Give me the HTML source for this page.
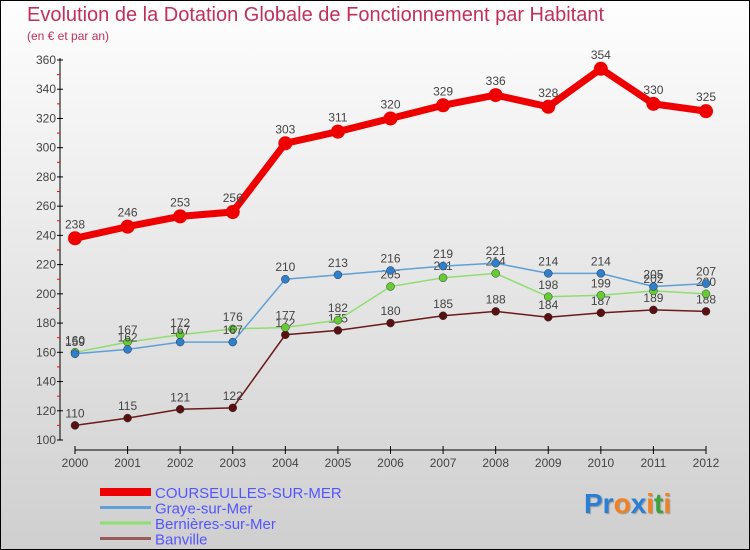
<!DOCTYPE html>
<html><head><meta charset="utf-8"><style>
body{margin:0}
#c{position:relative;width:748px;height:548px;border:1px solid #000;background:linear-gradient(#fefefe,#cfcfcf);font-family:"Liberation Sans",sans-serif;overflow:hidden}
.t{position:absolute;color:#c0305a}
</style></head><body>
<div id="c">
<div class="t" style="left:26px;top:3px;font-size:20px">Evolution de la Dotation Globale de Fonctionnement par Habitant</div>
<div class="t" style="left:26px;top:28px;font-size:12px">(en € et par an)</div>
<svg id="s" width="750" height="550" style="position:absolute;left:-1px;top:-1px"></svg>
<div style="position:absolute;left:583px;top:487px;font-size:28px;font-weight:bold;font-family:'Liberation Sans',sans-serif;text-shadow:1px 1px 1px #999"><span style="color:#2a7fd4">Pr</span><span style="color:#f08020">o</span><span style="color:#2a7fd4">x</span><span style="color:#f08020">i</span><span style="color:#40a040">t</span><span style="color:#f08020">i</span></div>
</div>
<script>
const years=[2000,2001,2002,2003,2004,2005,2006,2007,2008,2009,2010,2011,2012];
const courseulles=[238,246,253,256,303,311,320,329,336,328,354,330,325];
const graye=[159,162,167,167,210,213,216,219,221,214,214,205,207];
const bernieres=[160,167,172,176,177,182,205,211,214,198,199,202,200];
const banville=[110,115,121,122,172,175,180,185,188,184,187,189,188];
const yTicks=[100,120,140,160,180,200,220,240,260,280,300,320,340,360];
const names=["COURSEULLES-SUR-MER","Graye-sur-Mer","Bernières-sur-Mer","Banville"];
const NS="http://www.w3.org/2000/svg",s=document.getElementById('s');
const X=i=>75+i*(706-75)/12, Y=v=>440-(v-100)*380/260;
function el(t,a,p){const e=document.createElementNS(NS,t);for(const k in a)e.setAttribute(k,a[k]);(p||s).appendChild(e);return e;}
let a=el('line',{x1:60,y1:58,x2:60,y2:440,stroke:'#000'});


a=el('line',{x1:75,y1:450,x2:706,y2:450,stroke:'#000'});


yTicks.forEach(v=>{el('line',{x1:57,y1:Y(v),x2:63,y2:Y(v),stroke:'#000'});
 if(v<360)el('line',{x1:57,y1:Y(v+10),x2:60,y2:Y(v+10),stroke:'#f00'});
 const t=el('text',{x:56,y:Y(v)+4,'text-anchor':'end','font-size':12,fill:'#444'});t.textContent=v;
 
 });
years.forEach((y,i)=>{el('line',{x1:X(i),y1:446,x2:X(i),y2:454,stroke:'#000'});
 const t=el('text',{x:X(i),y:467,'text-anchor':'middle','font-size':12,fill:'#444'});t.textContent=y;
 
 });
const series=[[banville,'#6b1a1a','#5a1010',1.5,4],[bernieres,'#90dd70','#66cc33',1.5,4],[graye,'#5fa0d8','#2f80cc',1.5,4],[courseulles,'#ee0000','#ee0000',7,7]];
series.forEach(([d,lc,mc,w,r],k)=>{
 const p=el('polyline',{points:d.map((v,i)=>X(i)+','+Y(v)).join(' '),fill:'none',stroke:lc,'stroke-width':w});
 
 
 d.forEach((v,i)=>{const c=el('circle',{cx:X(i),cy:Y(v),r:r,fill:mc,stroke:k==3?'none':'#333','stroke-width':0.5});
  
  
  const t=el('text',{x:X(i),y:Y(v)-(k==3?10:8),'text-anchor':'middle','font-size':12,fill:'#444'});t.textContent=v;
  
  });
});
const lc=['#ee0000','#5fa0d8','#90dd70','#9a5a5a'],lw=[8,3,3,3];
names.forEach((n,i)=>{const y=492+i*15.5;
 const l=el('line',{x1:100,y1:y,x2:151,y2:y,stroke:lc[i],'stroke-width':lw[i]});
 
 
 const t=el('text',{x:155,y:y+6,'font-size':15,fill:'#5555ff'});t.textContent=n;
 
 });
</script>
</body></html>
